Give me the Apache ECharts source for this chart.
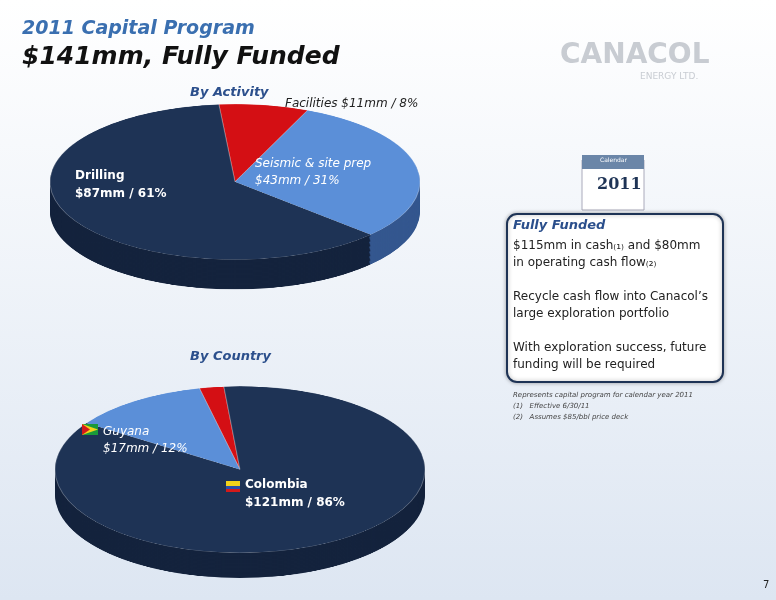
<!DOCTYPE html><html><head><meta charset="utf-8">
<script src="https://cdn.jsdelivr.net/npm/echarts@6/dist/echarts.min.js"></script>
<style>body{margin:0}#bg,#fg{position:absolute;left:0;top:0;width:776px;height:600px}
.p{position:absolute;transform-origin:0 0}</style></head><body>
<div id="bg"></div>
<div id="p1" class="p" style="left:40px;top:102px;width:390px;height:460px;transform:scaleY(0.42)"></div>
<div id="p2" class="p" style="left:45px;top:384px;width:390px;height:460px;transform:scaleY(0.45)"></div>
<div id="fg"></div>
<script>
const activityNames=['Facilities','Seismic & site prep','Drilling'];
const activityValues=[11,43,87];
const countryNames=['Other','Guyana','Colombia'];
const countryValues=[3,17,121];
const topCol=['#d40f14','#5b8fd8','#1e3355'];
const sideCol=['#8a0a0c','#34578f','#14233d'];
function pieOpt(names,vals,clockwise,start,depth){
  const series=[];const data=(cols)=>names.map((n,i)=>({name:n,value:vals[i],itemStyle:{color:cols[i]}}));
  for(let k=depth;k>0;k-=3){series.push({type:'pie',radius:185,center:[195,190+k],startAngle:start,clockwise,silent:true,label:{show:false},data:data(sideCol),animation:false});}
  series.push({type:'pie',radius:185,center:[195,190],startAngle:start,clockwise,silent:true,label:{show:false},data:data(topCol),animation:false,itemStyle:{borderColor:'rgba(255,255,255,0.3)',borderWidth:1}});
  return {series};
}
echarts.init(document.getElementById('p1')).setOption(pieOpt(activityNames,activityValues,true,95,71));
echarts.init(document.getElementById('p2')).setOption(pieOpt(countryNames,countryValues,false,95,56));
const t=(x,y,s,o)=>({type:'text',left:x,top:y,style:Object.assign({text:s,fill:'#222',font:'12px "DejaVu Sans"'},o||{})});
echarts.init(document.getElementById('bg')).setOption({graphic:[
  {type:'rect',shape:{x:0,y:0,width:776,height:600},style:{fill:new echarts.graphic.LinearGradient(0,0,0,1,[{offset:0,color:'#ffffff'},{offset:1,color:'#dde6f2'}])}}]});
echarts.init(document.getElementById('fg')).setOption({
 graphic:[
  t(22,20,'2011 Capital Program',{fill:'#3a6fb0',font:'italic bold 19px "DejaVu Sans"'}),
  t(22,45,'$141mm, Fully Funded',{fill:'#111',font:'italic bold 25px "DejaVu Sans"'}),
  t(560,42,'CANACOL',{fill:'#c8ccd2',font:'bold 28px "DejaVu Sans"'}),
  t(640,72,'ENERGY LTD.',{fill:'#c8ccd2',font:'9px "DejaVu Sans"'}),
  t(190,86,'By Activity',{fill:'#2b4f8c',font:'italic bold 13px "DejaVu Sans"'}),
  t(285,98,'Facilities $11mm / 8%',{fill:'#222',font:'italic 12px "DejaVu Sans"'}),
  t(255,155,'Seismic & site prep\n$43mm / 31%',{fill:'#fff',font:'italic 12px "DejaVu Sans"',lineHeight:17}),
  t(75,167,'Drilling\n$87mm / 61%',{fill:'#fff',font:'bold 12px "DejaVu Sans"',lineHeight:18}),
  t(190,350,'By Country',{fill:'#2b4f8c',font:'italic bold 13px "DejaVu Sans"'}),
  t(103,423,'Guyana\n$17mm / 12%',{fill:'#fff',font:'italic 12px "DejaVu Sans"',lineHeight:17}),
  {type:'rect',shape:{x:82,y:424,width:16,height:11},style:{fill:'#1a9a3a'}},
  {type:'polygon',shape:{points:[[82,424],[98,429.5],[82,435]]},style:{fill:'#f3d31a'}},
  {type:'polygon',shape:{points:[[82,424],[90,429.5],[82,435]]},style:{fill:'#d41a1a'}},
  t(245,476,'Colombia\n$121mm / 86%',{fill:'#fff',font:'bold 12px "DejaVu Sans"',lineHeight:18}),
  {type:'rect',shape:{x:226,y:481,width:14,height:5},style:{fill:'#f3d31a'}},
  {type:'rect',shape:{x:226,y:486,width:14,height:3},style:{fill:'#2a4fa8'}},
  {type:'rect',shape:{x:226,y:489,width:14,height:3},style:{fill:'#d41a1a'}},
  {type:'rect',shape:{x:582,y:160,width:62,height:50},style:{fill:'#fff',stroke:'#aab',lineWidth:1}},
  {type:'rect',shape:{x:582,y:155,width:62,height:14},style:{fill:'#6b86a8'}},
  t(600,157,'Calendar',{fill:'#fff',font:'6px "DejaVu Sans"'}),
  t(597,177,'2011',{fill:'#1e3355',font:'bold 16px "DejaVu Serif"'}),
  {type:'rect',shape:{x:507,y:214,width:216,height:168,r:10},style:{fill:'#fff',stroke:'#1e3355',lineWidth:2,shadowBlur:4,shadowColor:'rgba(0,0,0,0.3)'}},
  t(513,219,'Fully Funded',{fill:'#2b4f8c',font:'italic bold 13px "DejaVu Sans"'}),
  t(513,237,'$115mm in cash\u208d\u2081\u208e and $80mm\nin operating cash flow\u208d\u2082\u208e\n\nRecycle cash flow into Canacol\u2019s\nlarge exploration portfolio\n\nWith exploration success, future\nfunding will be required',{fill:'#222',font:'12px "DejaVu Sans"',lineHeight:17}),
  t(513,390,'Represents capital program for calendar year 2011\n(1)   Effective 6/30/11\n(2)   Assumes $85/bbl price deck',{fill:'#444',font:'italic 7px "DejaVu Sans"',lineHeight:11}),
  t(763,580,'7',{fill:'#222',font:'10px "DejaVu Sans"'})
 ]
});
</script></body></html>
